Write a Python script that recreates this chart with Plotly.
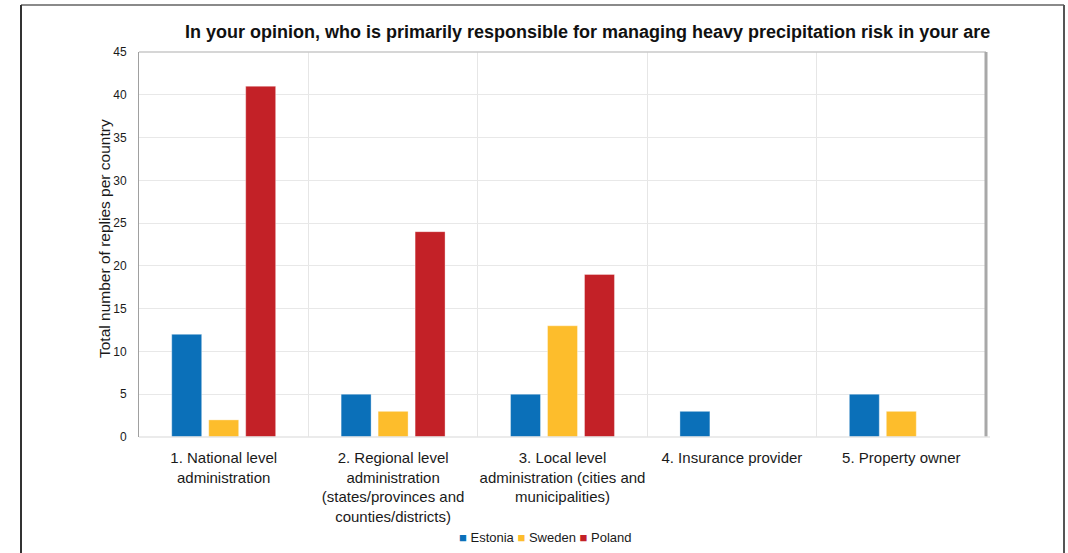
import plotly.graph_objects as go

# Survey answers: who is responsible for managing heavy precipitation risk
categories = [
    "1. National level<br>administration",
    "2. Regional level<br>administration<br>(states/provinces and<br>counties/districts)",
    "3. Local level<br>administration (cities and<br>municipalities)",
    "4. Insurance provider",
    "5. Property owner",
]
estonia = [12, 5, 5, 3, 5]
sweden = [2, 3, 13, 0, 3]
poland = [41, 24, 19, 0, 0]
y_ticks = [0, 5, 10, 15, 20, 25, 30, 35, 40, 45]

W, H = 1068, 553
L, R, T, B = 139, 82, 52, 116
PW, PH = W - L - R, H - T - B


def px(x):
    return (x - L) / PW


def py(y):
    return (H - B - y) / PH


series = [
    ("Estonia", estonia, "#0B70B9"),
    ("Sweden", sweden, "#FDBD2C"),
    ("Poland", poland, "#C32127"),
]

fig = go.Figure()
for name, vals, color in series:
    fig.add_trace(go.Bar(
        name=name, x=categories, y=vals, showlegend=False,
        marker=dict(color=color, line=dict(color="rgba(255,255,255,0.35)", width=1)),
    ))

font = "Liberation Sans, Arial, sans-serif"

fig.update_layout(
    width=W, height=H,
    margin=dict(l=L, r=R, t=T, b=B, autoexpand=False),
    paper_bgcolor="white", plot_bgcolor="white",
    barmode="group", bargap=0.345, bargroupgap=0.19,
    font=dict(family=font, color="#1a1a1a"),
    title=dict(
        text="<b>In your opinion, who is primarily responsible for managing heavy precipitation risk in your are</b>",
        x=185 / W, xanchor="left", xref="container",
        y=1 - 32 / H, yanchor="middle", yref="container",
        font=dict(size=18, color="#111", family=font),
    ),
    xaxis=dict(
        tickson="boundaries", showgrid=True, gridcolor="#e6e6e6", gridwidth=1,
        ticks="", showline=False, zeroline=False,
        tickfont=dict(size=15, color="#1a1a1a"),
        tickangle=0, ticklabelstandoff=10,
        fixedrange=True,
    ),
    yaxis=dict(
        range=[0, 45], tickvals=y_ticks, showgrid=True,
        gridcolor="#e8e8e8", gridwidth=1, zeroline=False,
        showline=True, linecolor="#a0a0a0", linewidth=1,
        ticks="", tickfont=dict(size=12, color="#1a1a1a"),
        ticklabelstandoff=9,
    ),
)

# y-axis caption
fig.add_annotation(
    text="Total number of replies per country", textangle=-90,
    x=px(104), y=py(239), xref="paper", yref="paper",
    xanchor="center", yanchor="middle",
    showarrow=False, font=dict(size=15.5, color="#1a1a1a"),
)

# legend row: coloured squares followed by series names
legend_text = " ".join(
    f"<span style='color:{color}'>■</span> {name}" for name, _, color in series
)
fig.add_annotation(
    text=legend_text, x=px(545), y=py(537), xref="paper", yref="paper",
    xanchor="center", yanchor="middle", showarrow=False,
    font=dict(size=13, color="#1a1a1a"),
)

# plot area frame: light top, heavy right, faint baseline
fig.add_shape(type="line", xref="paper", yref="paper",
              x0=0, x1=1, y0=1, y1=1, line=dict(color="#c8c8c8", width=1.5))
fig.add_shape(type="line", xref="paper", yref="paper",
              x0=1, x1=1, y0=0, y1=1, line=dict(color="#a8a8a8", width=3))
fig.add_shape(type="line", xref="paper", yref="paper",
              x0=0, x1=px(990), y0=0, y1=0, line=dict(color="#e4e4e4", width=1.5))

# outer page frame
fig.add_shape(type="line", xref="paper", yref="paper",
              x0=px(21), x1=px(1064), y0=py(5), y1=py(5), line=dict(color="#8a8a8a", width=2))
fig.add_shape(type="line", xref="paper", yref="paper",
              x0=px(21), x1=px(21), y0=py(5), y1=py(H + 2), line=dict(color="#333333", width=2))
fig.add_shape(type="line", xref="paper", yref="paper",
              x0=px(1064), x1=px(1064), y0=py(5), y1=py(H + 2), line=dict(color="#555555", width=2))

fig.write_html("out.html")
